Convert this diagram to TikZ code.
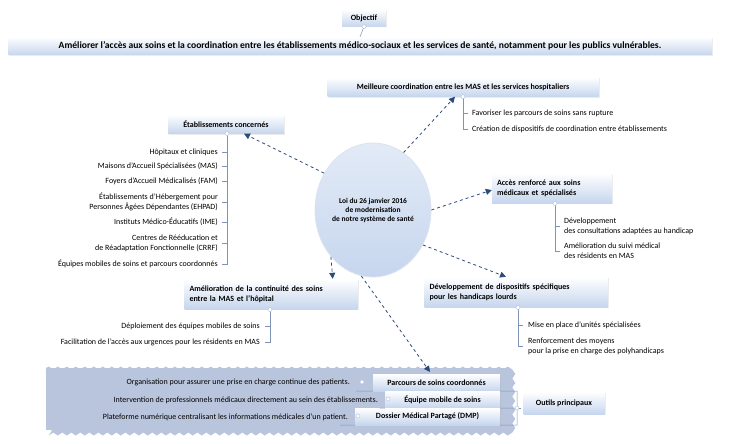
\documentclass[tikz,border=0pt]{standalone}
\usepackage{fontspec}
\setmainfont{Carlito}
\usetikzlibrary{decorations.pathmorphing,arrows.meta,shadows,shapes.geometric}
\definecolor{arr}{HTML}{2B4A7A}
\definecolor{boxb}{HTML}{C6D6EE}
\definecolor{wave}{HTML}{B9C5DD}
\definecolor{brk}{HTML}{7F93B8}
\tikzset{
 tbox/.style={top color=white,bottom color=boxb,draw=none,font=\bfseries\fontsize{8}{10}\selectfont,align=left,inner sep=0pt,drop shadow={opacity=0.15,shadow xshift=1pt,shadow yshift=-1pt}},
 itm/.style={font=\fontsize{8}{10}\selectfont,inner sep=0pt,align=left},
 itr/.style={font=\fontsize{8}{10}\selectfont,inner sep=0pt,align=right},
 con/.style={draw=arr,thick,dashed,-{Triangle[length=6pt,width=6pt]}},
 brl/.style={draw=brk,line width=0.5pt},
 knob/.style={circle,draw=brk!60,fill=white,inner sep=0pt,minimum size=4pt,line width=0.4pt},
}
\begin{document}
\begin{tikzpicture}[x=1pt,y=-1pt]
\useasboundingbox (0,0) rectangle (731,444);
% wavy region
\fill[wave,decorate,decoration={snake,amplitude=1.5pt,segment length=9pt}] (46,368) -- (510,368) -- (510,430) -- (46,430) -- cycle;
\fill[wave] (46,368) rectangle (510,430);
% objective
\node[tbox,minimum width=44,minimum height=17,align=center] (obj) at (364,18) {Objectif};
\node[tbox,minimum width=704,minimum height=18,align=center,font=\bfseries\fontsize{9.6}{11}\selectfont] (goal) at (360,46) {Améliorer l’accès aux soins et la coordination entre les établissements médico-sociaux et les services de santé, notamment pour les publics vulnérables.};
\draw[brl] (obj.south) -- (goal.north);
\node[knob] at (obj.south) {};
% center
\node[ellipse,minimum width=116,minimum height=134,draw=boxb!80!arr!40,line width=0.8pt,top color=boxb!50,bottom color=boxb,align=center,font=\bfseries\fontsize{7.5}{9}\selectfont,inner sep=0pt] (c) at (373,210) {Loi du 26 janvier 2016\\de modernisation\\de notre système de santé};
% boxes
\node[tbox,minimum width=271,minimum height=19,align=center] (m) at (463,87) {Meilleure coordination entre les MAS et les services hospitaliers};
\node[tbox,minimum width=116,minimum height=19,align=center] (e) at (226,124) {Établissements concernés};
\node[tbox,minimum width=120,minimum height=30,text width=110] (a) at (552,188) {Accès renforcé aux soins\\médicaux et spécialisés};
\node[tbox,minimum width=173,minimum height=30,text width=163] (am) at (271,294) {Amélioration de la continuité des soins\\entre la MAS et l’hôpital};
\node[tbox,minimum width=183,minimum height=30,text width=173] (d) at (516,292) {Développement de dispositifs spécifiques\\pour les handicaps lourds};
% arrows
\draw[con] (c.62) -- ([xshift=-8pt]m.south);
\draw[con] (c.143) -- (e.south -| 244,0);
\draw[con] (c.0) -- ([yshift=-2pt]a.west);
\draw[con] (c.228) -- ([xshift=-25pt]am.north east);
\draw[con] (c.-35) -- ([xshift=-10pt]d.north);
% m bullets
\draw[brl] (m.south) -- (463,129) -- (468,129);
\draw[brl] (463,113) -- (468,113);
\node[knob] at (m.south) {};
\node[itm,anchor=west] at (472,113) {Favoriser les parcours de soins sans rupture};
\node[itm,anchor=west] at (472,129) {Création de dispositifs de coordination entre établissements};
% e bullets
\draw[brl] (e.south -| 227,0) -- (227,264) -- (222,264);
\node[knob] at (227,133.5) {};
\foreach \y/\t in {152/Hôpitaux et cliniques,166/Maisons d’Accueil Spécialisées (MAS),181/Foyers d’Accueil Médicalisés (FAM),202/{Établissements d’Hébergement pour\\Personnes Âgées Dépendantes (EHPAD)},222/Instituts Médico-Éducatifs (IME),243/{Centres de Rééducation et\\de Réadaptation Fonctionnelle (CRRF)},264/Équipes mobiles de soins et parcours coordonnés}{
 \draw[brl] (227,\y) -- (222,\y);
 \node[itr,anchor=east] at (218,\y) {\t};}
% a bullets
\draw[brl] (555,203) -- (555,251) -- (560,251);
\draw[brl] (555,226) -- (560,226);
\node[knob] at (555,203.5) {};
\node[itm,anchor=west] at (564,226) {Développement\\des consultations adaptées au handicap};
\node[itm,anchor=west] at (564,251) {Amélioration du suivi médical\\des résidents en MAS};
% am bullets
\draw[brl] (270,309) -- (270,342) -- (265,342);
\draw[brl] (270,326) -- (265,326);
\node[knob] at (270,309.5) {};
\node[itr,anchor=east] at (260,326) {Déploiement des équipes mobiles de soins};
\node[itr,anchor=east] at (260,342) {Facilitation de l’accès aux urgences pour les résidents en MAS};
% d bullets
\draw[brl] (518,307) -- (518,346) -- (523,346);
\draw[brl] (518,325) -- (523,325);
\node[knob] at (518,307.5) {};
\node[itm,anchor=west] at (528,325) {Mise en place d’unités spécialisées};
\node[itm,anchor=west] at (528,346) {Renforcement des moyens\\pour la prise en charge des polyhandicaps};
% tools
\node[tbox,minimum width=81,minimum height=22,align=center] (o) at (564,403) {Outils principaux};
\node[tbox,minimum width=127,minimum height=17,align=center] (p) at (436.5,382.5) {Parcours de soins coordonnés};
\node[tbox,minimum width=115,minimum height=17,align=center] (q) at (442.5,399.5) {Équipe mobile de soins};
\node[tbox,minimum width=145,minimum height=17,align=center] (r) at (427.5,416.5) {Dossier Médical Partagé (DMP)};
\draw[brl] (p.south east) -- (517,391) -- (517,425) -- (r.south east);
\draw[brl] (q.south east) -- (517,408);
\draw[brl] (517,408) -- (521,408);
\node[knob] at (517,408) {};
\draw[con] (c.-100) -- (430,372);
\draw[brl] (p.south west) -- (356,391); \node[knob] at (362,382) {};
\draw[brl] (q.south west) -- (380,408); \node[knob] at (388,399) {};
\draw[brl] (r.south west) -- (340,425); \node[knob] at (358,416) {};
\node[itr,anchor=east] at (350,382) {Organisation pour assurer une prise en charge continue des patients.};
\node[itr,anchor=east] at (378,400) {Intervention de professionnels médicaux directement au sein des établissements.};
\node[itr,anchor=east] at (348,417) {Plateforme numérique centralisant les informations médicales d’un patient.};
\end{tikzpicture}
\end{document}
